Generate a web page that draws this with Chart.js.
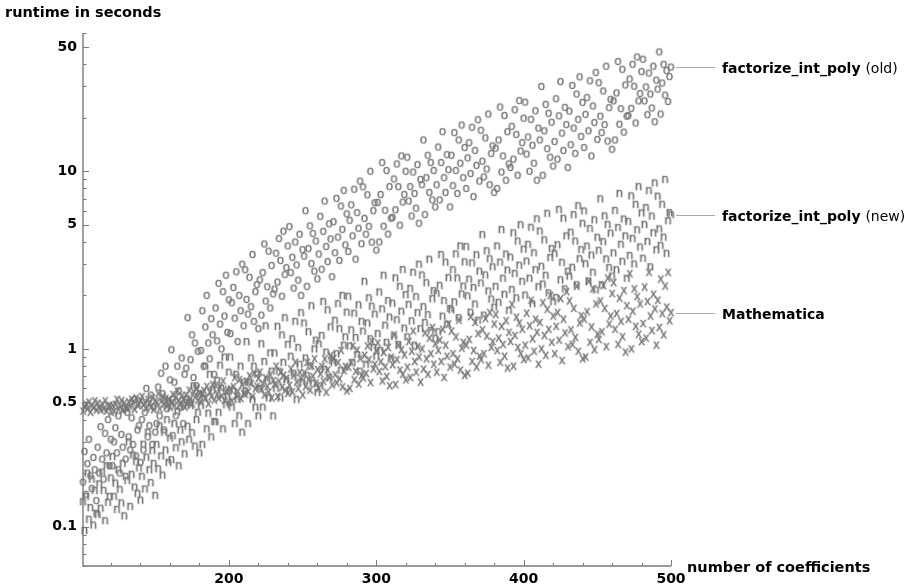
<!DOCTYPE html>
<html>
<head>
<meta charset="utf-8">
<script src="https://cdn.jsdelivr.net/npm/chart.js@4.4.1/dist/chart.umd.min.js"></script>
<style>
	html, body { margin: 0; padding: 0; background: #fff; }
	#wrap { width: 922px; height: 588px; position: relative; }
</style>
</head>
<body>
<div id="wrap"><canvas id="runtimes"></canvas></div>
<script>
// runtime in seconds for polynomials with 101..500 coefficients
const firstCoeff = 101;

const oldTimes = [
	0.178,0.265,0.152,0.226,0.31,0.193,0.164,0.245,0.209,0.14,
	0.28,0.2,0.365,0.24,0.185,0.335,0.26,0.4,0.22,0.31,
	0.22,0.3,0.36,0.26,0.42,0.2,0.33,0.28,0.46,0.24,
	0.44,0.32,0.27,0.41,0.29,0.52,0.25,0.35,0.37,0.23,
	0.4,0.27,0.44,0.6,0.32,0.37,0.55,0.29,0.47,0.34,
	0.38,0.61,0.42,0.73,0.56,0.35,0.8,0.46,0.51,0.67,
	0.99,0.52,0.65,0.42,0.8,0.58,0.47,0.89,0.38,0.72,
	0.78,1.5,0.5,0.87,1.2,0.69,1.08,0.62,0.97,0.56,
	0.98,1.64,0.8,1.33,2,1.08,0.88,1.48,1.2,0.72,
	1.7,1.11,2.34,1.38,1,2.1,1.53,2.6,1.24,1.89,
	1.22,1.82,2.22,1.49,2.72,1.1,2,1.64,3,1.35,
	2.79,1.9,1.57,2.53,1.73,3.4,1.43,2.1,2.3,1.3,
	2.45,1.55,2.69,3.9,1.86,2.24,3.55,1.7,2.95,2.04,
	2.17,3.46,2.38,4.18,3.15,1.98,4.6,2.62,2.87,3.8,
	4.88,2.69,3.28,2.2,4,2.97,2.44,4.42,2,3.62,
	3.33,6,2.25,3.67,4.93,3.02,4.47,2.74,4.05,2.48,
	3.42,5.58,2.81,4.59,6.8,3.77,3.1,5.06,4.16,2.55,
	5.2,3.48,7.04,4.26,3.15,6.37,4.71,7.8,3.85,5.76,
	3.54,5.3,6.47,4.33,7.92,3.2,5.85,4.78,8.8,3.91,
	8.17,5.43,4.42,7.37,4.9,10,3.99,6,6.65,3.6,
	6.68,4,7.4,11.2,4.91,6.03,10.1,4.43,8.2,5.44,
	5.5,9.05,6.07,11,8.19,4.97,12.2,6.71,7.41,10,
	12,6.8,8.2,5.6,9.9,7.5,6.2,10.9,5.1,9,
	8.4,15,5.7,9.2,12.3,7.6,11.2,6.9,10.1,6.3,
	8.4,13.7,6.9,11.2,16.7,9.2,7.6,12.4,10.2,6.3,
	12.3,8.3,16.5,10.1,7.5,15,11.1,18.2,9.2,13.6,
	8,11.9,14.5,9.7,17.7,7.2,13.1,10.8,19.5,8.8,
	17,11.4,9.3,15.4,10.3,21,8.4,12.6,13.9,7.6,
	13.5,8,15,23,9.9,12.2,20.6,8.9,16.7,11,
	10.5,17.9,11.7,22.2,16.1,9.5,25,13,14.5,19.9,
	24.5,12.5,15.6,10,19.6,14,11.1,21.9,8.9,17.5,
	15,30,9.5,16.9,23.8,13.4,21.2,12,18.9,10.7,
	14.7,25.6,11.7,20.5,32,16.4,13.1,22.9,18.3,10.5,
	21.8,14.1,30.4,17.5,12.6,27.2,19.6,34,15.7,24.4,
	13.6,20.9,26,16.9,32.3,12.2,23.3,18.8,36,15.1,
	31.5,20.4,16.5,28.3,18.3,39,14.8,22.8,25.4,13.3,
	24.9,15,27.6,41.5,18.4,22.5,37.5,16.6,30.6,20.4,
	20.6,33.1,22.6,40,30.1,18.7,44,24.9,27.4,36.4,
	42.7,24.9,29.8,20.8,35.7,27.2,22.7,39,19,32.6,
	29,47,21,31.4,40,26.8,36.9,24.7,34.1,38.6
];

const newTimes = [
	0.138,0.095,0.148,0.2,0.11,0.128,0.185,0.102,0.16,0.119,
	0.117,0.174,0.127,0.203,0.16,0.108,0.22,0.137,0.148,0.188,
	0.248,0.148,0.176,0.125,0.209,0.162,0.136,0.227,0.115,0.192,
	0.182,0.3,0.13,0.197,0.253,0.167,0.233,0.154,0.214,0.141,
	0.192,0.291,0.163,0.246,0.34,0.209,0.177,0.268,0.227,0.15,
	0.29,0.212,0.37,0.25,0.195,0.34,0.27,0.4,0.23,0.315,
	0.238,0.325,0.38,0.278,0.445,0.22,0.35,0.3,0.48,0.257,
	0.52,0.368,0.31,0.48,0.338,0.62,0.284,0.4,0.44,0.26,
	0.48,0.29,0.53,0.8,0.355,0.435,0.72,0.32,0.59,0.39,
	0.39,0.665,0.44,0.81,0.6,0.355,0.9,0.485,0.54,0.74,
	0.9,0.47,0.58,0.38,0.72,0.52,0.42,0.8,0.34,0.65,
	0.58,1.1,0.38,0.65,0.89,0.52,0.8,0.47,0.72,0.42,
	0.6,1.07,0.47,0.85,1.35,0.67,0.53,0.95,0.75,0.42,
	0.95,0.6,1.34,0.75,0.53,1.2,0.84,1.5,0.67,1.06,
	0.58,0.91,1.14,0.73,1.43,0.52,1.02,0.82,1.6,0.65,
	1.4,0.89,0.71,1.25,0.8,1.75,0.64,1,1.12,0.57,
	1.07,0.62,1.19,1.85,0.77,0.96,1.66,0.69,1.33,0.86,
	0.84,1.45,0.94,1.8,1.3,0.76,2,1.05,1.17,1.61,
	1.98,1.04,1.28,0.84,1.59,1.16,0.93,1.77,0.75,1.43,
	1.26,2.4,0.82,1.4,1.94,1.14,1.74,1.02,1.57,0.91,
	1.22,2.09,0.98,1.68,2.6,1.36,1.09,1.87,1.51,0.88,
	1.81,1.18,2.51,1.46,1.06,2.25,1.63,2.8,1.31,2.02,
	1.17,1.78,2.19,1.44,2.7,1.05,1.97,1.6,3,1.3,
	2.61,1.73,1.41,2.36,1.56,3.2,1.27,1.92,2.13,1.15,
	2.06,1.25,2.28,3.4,1.53,1.87,3.08,1.38,2.52,1.69,
	1.66,2.79,1.84,3.43,2.51,1.5,3.8,2.04,2.26,3.09,
	3.77,1.99,2.47,1.61,3.05,2.22,1.79,3.39,1.45,2.74,
	2.35,4.4,1.55,2.61,3.57,2.12,3.22,1.91,2.9,1.72,
	2.25,3.8,1.83,3.08,4.7,2.5,2.03,3.42,2.78,1.65,
	3.29,2.16,4.5,2.66,1.94,4.05,2.96,5,2.4,3.65,
	2.01,3.12,3.88,2.5,4.84,1.8,3.48,2.79,5.4,2.24,
	4.61,2.92,2.32,4.11,2.6,5.8,2.07,3.27,3.67,1.85,
	3.45,1.95,3.86,6.1,2.45,3.07,5.44,2.18,4.33,2.74,
	2.57,4.54,2.88,5.7,4.05,2.3,6.4,3.22,3.62,5.09,
	5.98,3.02,3.79,2.41,4.76,3.38,2.7,5.33,2.15,4.25,
	3.59,7,2.3,4.02,5.61,3.21,5.02,2.87,4.49,2.57,
	3.47,6.02,2.79,4.83,7.5,3.88,3.11,5.39,4.33,2.5,
	5.22,3.36,7.27,4.19,3.01,6.51,4.68,8.2,3.75,5.83,
	3.24,5.02,6.25,4.03,7.78,2.9,5.6,4.5,8.6,3.61,
	7.25,4.74,3.83,6.52,4.26,9,3.45,5.27,5.86,5.7
];

const mmaTimes = [
	0.447,0.474,0.488,0.46,0.502,0.44,0.481,0.467,0.51,0.453,
	0.495,0.467,0.453,0.488,0.46,0.51,0.447,0.474,0.481,0.44,
	0.481,0.445,0.488,0.52,0.459,0.474,0.512,0.452,0.496,0.466,
	0.465,0.505,0.472,0.521,0.496,0.457,0.53,0.48,0.488,0.513,
	0.54,0.482,0.5,0.464,0.52,0.491,0.473,0.53,0.455,0.51,
	0.497,0.56,0.46,0.507,0.538,0.488,0.527,0.478,0.517,0.469,
	0.5,0.555,0.48,0.533,0.58,0.511,0.49,0.544,0.522,0.47,
	0.549,0.502,0.587,0.525,0.49,0.574,0.537,0.6,0.513,0.561,
	0.502,0.555,0.584,0.528,0.614,0.49,0.569,0.541,0.63,0.515,
	0.624,0.558,0.528,0.607,0.543,0.66,0.514,0.574,0.59,0.5,
	0.594,0.51,0.612,0.69,0.542,0.576,0.671,0.526,0.631,0.559,
	0.557,0.659,0.576,0.706,0.637,0.538,0.73,0.596,0.616,0.682,
	0.741,0.593,0.638,0.55,0.688,0.615,0.571,0.714,0.53,0.663,
	0.632,0.8,0.54,0.657,0.739,0.607,0.711,0.584,0.683,0.562,
	0.624,0.771,0.574,0.708,0.84,0.651,0.598,0.739,0.679,0.55,
	0.733,0.613,0.839,0.67,0.586,0.802,0.701,0.88,0.641,0.767,
	0.598,0.724,0.797,0.658,0.877,0.57,0.76,0.69,0.92,0.627,
	0.883,0.716,0.644,0.838,0.679,0.98,0.611,0.754,0.795,0.58,
	0.79,0.6,0.835,1.04,0.67,0.748,0.985,0.634,0.882,0.708,
	0.686,0.921,0.728,1.04,0.869,0.647,1.1,0.772,0.819,0.977,
	1.08,0.746,0.845,0.66,0.955,0.794,0.7,1.02,0.62,0.898,
	0.815,1.2,0.63,0.87,1.05,0.76,0.99,0.72,0.925,0.67,
	0.79,1.1,0.69,0.97,1.26,0.85,0.74,1.03,0.9,0.65,
	1,0.77,1.23,0.88,0.72,1.15,0.94,1.32,0.82,1.07,
	0.74,0.98,1.12,0.85,1.29,0.69,1.05,0.91,1.38,0.79,
	1.26,0.94,0.82,1.17,0.88,1.45,0.76,1.01,1.09,0.71,
	1.05,0.73,1.13,1.52,0.85,0.98,1.41,0.79,1.22,0.91,
	0.87,1.28,0.94,1.48,1.18,0.81,1.6,1.02,1.1,1.38,
	1.56,0.98,1.15,0.84,1.34,1.06,0.91,1.44,0.78,1.24,
	1.1,1.78,0.8,1.19,1.51,1.02,1.4,0.94,1.29,0.87,
	1.05,1.59,0.89,1.35,1.88,1.14,0.97,1.47,1.24,0.82,
	1.41,1,1.82,1.19,0.92,1.67,1.29,2,1.09,1.53,
	0.94,1.34,1.6,1.12,1.92,0.86,1.47,1.23,2.1,1.03,
	1.86,1.28,1.06,1.69,1.16,2.25,0.97,1.4,1.54,0.88,
	1.47,0.9,1.62,2.4,1.09,1.33,2.18,0.99,1.79,1.21,
	1.13,1.86,1.25,2.27,1.69,1.03,2.5,1.38,1.53,2.05,
	2.36,1.29,1.58,1.06,1.93,1.43,1.17,2.13,0.96,1.75,
	1.47,2.65,1,1.63,2.18,1.34,1.97,1.21,1.79,1.1,
	1.39,2.23,1.15,1.85,2.7,1.53,1.27,2.03,1.68,1.05,
	1.88,1.32,2.47,1.58,1.2,2.26,1.72,2.7,1.44,1.6
];

const seriesNames = ["factorize_int_poly", "factorize_int_poly", "Mathematica"];
const seriesNotes = ["(old)", "(new)", ""];
const seriesMarks = ["o", "n", "x"];
const yLabelValues = [0.1, 0.5, 1, 5, 10, 50];
const xLabelValues = [200, 300, 400, 500];

const coeffs = oldTimes.map((_, i) => firstCoeff + i);
const FONT = '"DejaVu Sans", sans-serif';

// little gray letters used as markers
function glyph(ch) {
	const c = document.createElement("canvas");
	c.width = 13;
	c.height = 13;
	const g = c.getContext("2d");
	g.fillStyle = "#777777";
	g.strokeStyle = "#777777";
	g.lineWidth = 0.45;
	g.font = '12.5px "Liberation Sans"';
	g.textAlign = "center";
	g.fillText(ch, 6.5, 9.7);
	g.strokeText(ch, 6.5, 9.7);
	return c;
}

function logTicks() {
	const out = [];
	for (let e = -2; e <= 1; e++) {
		for (let m = 1; m <= 9; m++) {
			const v = +(m * Math.pow(10, e)).toPrecision(3);
			if (v >= 0.06 && v <= 60) out.push(v);
		}
	}
	return out;
}

const frame = {
	id: "frame",
	beforeDatasetsDraw(chart) {
		const { ctx, chartArea: a, scales: { x, y } } = chart;
		ctx.save();
		ctx.strokeStyle = "#7a7a7a";
		ctx.lineWidth = 1.4;
		ctx.beginPath();
		ctx.moveTo(a.left, a.top);
		ctx.lineTo(a.left, a.bottom);
		ctx.lineTo(a.right, a.bottom);
		ctx.stroke();
		ctx.lineWidth = 1;
		ctx.beginPath();
		y.ticks.forEach(t => {
			const py = Math.round(y.getPixelForValue(t.value)) + 0.5;
			ctx.moveTo(a.left, py);
			ctx.lineTo(a.left + (t.label ? 6 : 3.5), py);
		});
		x.ticks.forEach(t => {
			const px = Math.round(x.getPixelForValue(t.value)) + 0.5;
			ctx.moveTo(px, a.bottom);
			ctx.lineTo(px, a.bottom - (t.label ? 6 : 3));
		});
		ctx.stroke();
		ctx.restore();
	},
	afterDraw(chart) {
		const { ctx, scales: { x, y } } = chart;
		ctx.save();
		ctx.fillStyle = "#000";
		ctx.font = "bold 14.5px " + FONT;
		ctx.textBaseline = "alphabetic";
		ctx.fillText("runtime in seconds", 5, 17);
		ctx.fillText("number of coefficients", 687, 572);

		const last = [oldTimes, newTimes, mmaTimes].map(s => s[s.length - 1]);
		const px = x.getPixelForValue(coeffs[coeffs.length - 1]);
		last.forEach((v, k) => {
			const py = Math.round(y.getPixelForValue(v)) + 0.5;
			ctx.strokeStyle = "#aaaaaa";
			ctx.lineWidth = 1;
			ctx.beginPath();
			ctx.moveTo(px + 5, py);
			ctx.lineTo(715, py);
			ctx.stroke();
			ctx.font = "bold 14px " + FONT;
			ctx.fillText(seriesNames[k], 722, py + 5);
			if (seriesNotes[k]) {
				const w = ctx.measureText(seriesNames[k] + " ").width;
				ctx.font = "14px " + FONT;
				ctx.fillText(seriesNotes[k], 722 + w, py + 5);
			}
		});
		ctx.restore();
	}
};

new Chart(
	document.getElementById("runtimes"),
	{
		type: "scatter",
		data: {
			datasets: [oldTimes, newTimes, mmaTimes].map((vals, k) => ({
				label: (seriesNames[k] + " " + seriesNotes[k]).trim(),
				data: vals.map((v, i) => ({ x: coeffs[i], y: v })),
				pointStyle: glyph(seriesMarks[k]),
				pointRadius: 3,
				clip: false,
			})),
		},
		options: {
			responsive: true,
			maintainAspectRatio: false,
			animation: false,
			events: [],
			layout: { padding: { top: 33, right: 251, bottom: 0, left: 0 } },
			plugins: {
				legend: { display: false },
				tooltip: { enabled: false },
			},
			scales: {
				x: {
					type: "linear",
					min: firstCoeff,
					max: 500,
					grid: { display: false, drawTicks: false },
					border: { display: false },
					afterBuildTicks: s => {
						const t = [];
						for (let v = 120; v <= 500; v += 20) t.push({ value: v });
						s.ticks = t;
					},
					afterFit: s => { s.height = 22; },
					ticks: {
						autoSkip: false,
						maxRotation: 0,
						padding: 5,
						color: "#000",
						font: { family: FONT, size: 14, weight: "bold" },
						callback: v => xLabelValues.includes(v) ? String(v) : "",
					},
				},
				y: {
					type: "logarithmic",
					min: 0.06,
					max: 60,
					grid: { display: false, drawTicks: false },
					border: { display: false },
					afterBuildTicks: s => { s.ticks = logTicks().map(v => ({ value: v })); },
					afterFit: s => { s.width = 83; },
					ticks: {
						autoSkip: false,
						padding: 6,
						color: "#000",
						font: { family: FONT, size: 14, weight: "bold" },
						callback: v => yLabelValues.includes(v) ? String(v) : "",
					},
				},
			},
		},
		plugins: [frame],
	}
)
</script>
</body>
</html>
